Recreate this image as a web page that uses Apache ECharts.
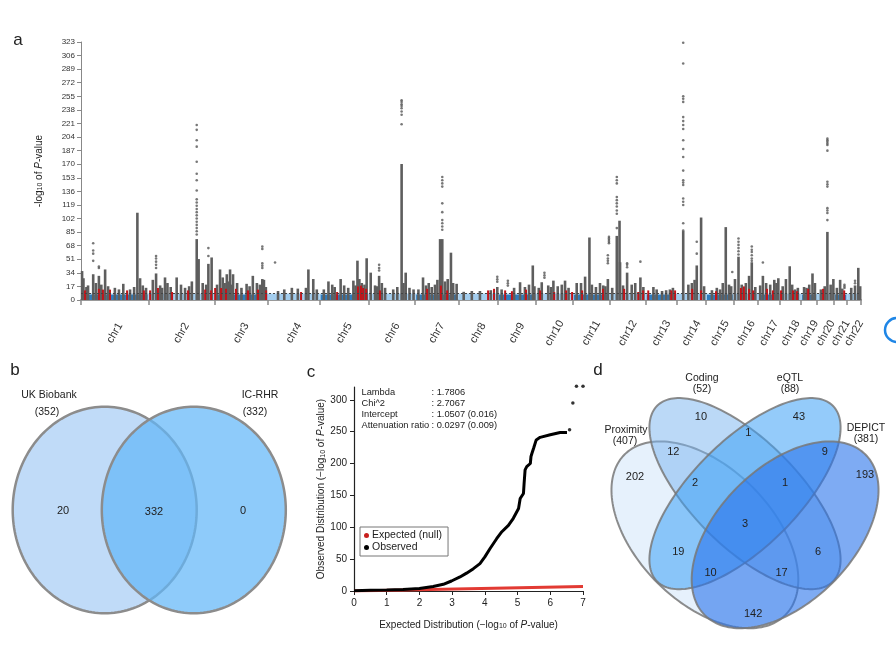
<!DOCTYPE html>
<html><head><meta charset="utf-8">
<script src="https://cdn.jsdelivr.net/npm/echarts@6/dist/echarts.min.js"></script>
<style>html,body{margin:0;padding:0;background:#fff}#c{width:896px;height:647px}</style>
</head><body><div id="c"></div>
<script>
// ---------- Panel a: Manhattan plot data ----------
const chrNames = ['chr1','chr2','chr3','chr4','chr5','chr6','chr7','chr8','chr9','chr10','chr11','chr12','chr13','chr14','chr15','chr16','chr17','chr18','chr19','chr20','chr21','chr22'];
const chrLengths = [249,243,198,191,181,171,159,146,141,136,135,134,115,107,102,90,81,78,59,63,48,51]; // Mb
const gwsThreshold = 8;
const bandLightTop = 8;
const bandDarkTop = 6.5;
// [chromosome, position (Mb), top -log10 P] dense columns of SNPs
const grayCols = [
[1,4,35],[1,9,26],[1,26,17],[1,45,31],[1,66,29],[1,89,37],[1,156,19],[1,181,12],[1,208,108],[1,218,26],
[2,16,24],[2,28,32],[2,43,17],[2,61,27],[2,104,27],[2,160,22],[2,178,75],[2,185,50],[2,221,44],[2,233,52],
[3,21,37],[3,31,27],[3,46,31],[3,58,37],[3,69,31],[3,84,20],[3,119,19],[3,142,29],[3,157,20],[3,177,25],[3,183,24],
[4,37,10],[4,88,14],[4,149,37],[4,167,25],
[5,32,22],[5,46,18],[5,77,25],[5,124,23],[5,139,48],[5,146,25],[5,173,51],
[6,7,33],[6,23,17],[6,38,29],[6,48,20],[6,105,15],[6,121,169],[6,136,33],
[7,12,12],[7,29,27],[7,61,15],[7,73,18],[7,92,75],[7,100,75],[7,132,58],[7,153,19],
[8,50,10],[8,144,15],
[9,14,12],[9,82,21],[9,129,42],
[10,21,21],[10,45,17],[10,64,23],[10,107,23],
[11,14,20],[11,30,20],[11,45,28],[11,61,77],[11,112,17],[11,129,25],
[12,27,79],[12,37,98],[12,39,46],[12,65,33],[12,82,18],[12,114,27],
[13,28,15],[13,60,10],[13,89,12],
[14,23,85],[14,42,18],[14,73,42],[14,89,102],
[15,22,11],[15,52,12],[15,73,90],[15,85,18],
[16,5,25],[16,18,53],[16,57,29],[16,67,46],
[17,8,17],[17,18,29],[17,75,26],
[18,22,25],[18,36,41],[18,56,12],
[19,11,15],[19,42,32],[19,51,20],
[20,14,12],[20,38,84],[20,60,25],
[21,22,24],
[22,29,17],[22,41,39],
[1,20,15],[1,55,20],[1,75,18],[1,100,16],[1,125,14],[1,140,12],[1,196,15],[1,228,17],[1,240,14],
[2,50,14],[2,70,20],[2,82,15],[2,120,18],[2,135,14],[2,150,16],[2,200,20],[2,213,18],
[3,10,18],[3,38,20],[3,52,22],[3,64,18],[3,100,14],[3,130,16],[3,168,18],[3,190,15],
[4,60,12],[4,110,13],[4,140,14],[4,180,12],
[5,15,12],[5,55,15],[5,90,17],[5,105,14],[5,132,17],[5,155,20],[5,165,18],
[6,30,16],[6,60,14],[6,90,12],[6,128,20],[6,150,14],[6,165,12],
[7,40,17],[7,50,20],[7,82,24],[7,110,22],[7,120,25],[7,140,20],
[8,20,9],[8,80,10],[8,120,11],
[9,60,14],[9,100,15],[9,115,18],[9,135,16],
[10,10,14],[10,55,15],[10,80,16],[10,95,18],[10,120,14],
[11,70,18],[11,85,15],[11,100,20],[11,120,16],
[12,10,14],[12,50,17],[12,95,20],[12,125,15],
[13,40,12],[13,75,11],[13,100,14],
[14,55,20],[14,65,24],[14,100,16],
[15,40,14],[15,62,20],[15,93,16],
[16,30,18],[16,45,20],[16,80,15],
[17,30,20],[17,45,18],[17,60,24],[17,68,20],
[18,10,16],[18,45,18],[18,66,14],
[19,20,14],[19,30,18],
[20,28,16],[20,50,18],
[21,10,14],[21,30,13],
[22,15,14],[22,48,16]
];
// isolated SNPs [chromosome, position (Mb), -log10 P]
const grayDots = [
[1,45,71],[1,45,62],[1,45,58],[1,45,49],[1,66,42],[1,66,40],
[2,28,55],[2,28,52],[2,28,48],[2,28,44],[2,28,40],
[2,178,219],[2,178,213],[2,178,200],[2,178,192],[2,178,173],[2,178,158],[2,178,150],[2,178,137],[2,178,126],[2,178,122],[2,178,118],[2,178,114],[2,178,110],[2,178,106],[2,178,102],[2,178,98],[2,178,94],[2,178,90],[2,178,86],[2,178,82],
[2,221,65],[2,221,55],
[3,177,67],[3,177,64],[3,177,46],[3,177,43],[3,177,40],
[4,26,47],
[6,38,44],[6,38,40],[6,38,37],
[6,121,250],[6,121,248],[6,121,245],[6,121,243],[6,121,240],[6,121,236],[6,121,232],[6,121,220],
[7,100,154],[7,100,150],[7,100,146],[7,100,142],[7,100,121],[7,100,110],[7,100,100],[7,100,96],[7,100,92],[7,100,88],
[8,144,29],[8,144,26],[8,144,23],
[9,37,24],[9,37,21],[9,37,18],
[10,31,34],[10,31,31],[10,31,28],
[11,129,56],[11,129,52],[11,129,49],[11,129,46],
[11,133,79],[11,133,77],[11,133,75],[11,133,73],[11,133,71],
[12,27,154],[12,27,150],[12,27,146],[12,27,129],[12,27,125],[12,27,121],[12,27,117],[12,27,112],[12,27,108],[12,27,90],
[12,65,46],[12,65,44],[12,65,41],[12,114,48],
[14,23,322],[14,23,296],[14,23,255],[14,23,252],[14,23,248],[14,23,229],[14,23,224],[14,23,219],[14,23,214],[14,23,200],[14,23,189],[14,23,179],[14,23,162],[14,23,150],[14,23,147],[14,23,144],[14,23,127],[14,23,123],[14,23,119],[14,23,96],[14,23,87],
[14,73,73],[14,73,58],
[15,97,35],
[16,18,77],[16,18,73],[16,18,69],[16,18,65],[16,18,61],[16,18,57],
[16,67,67],[16,67,63],[16,67,60],[16,67,56],[16,67,52],[16,67,49],
[17,18,47],
[20,38,202],[20,38,200],[20,38,198],[20,38,196],[20,38,194],[20,38,187],[20,38,148],[20,38,145],[20,38,142],[20,38,115],[20,38,112],[20,38,109],[20,38,100],
[21,38,19],[21,38,17],[21,38,15],
[22,29,24],[22,29,21]
];
// highlighted (red) loci [chromosome, position (Mb), top]
const redCols = [
[1,15,12],[1,66,14],[1,81,13],[1,107,13],[1,170,12],[1,232,12],[2,6,12],[2,35,15],[2,87,10],[2,146,12],[2,209,13],[2,231,12],
[3,3,15],[3,25,15],[3,43,14],[3,80,14],[3,124,12],[3,161,13],[3,191,12],[4,122,10],[5,64,10],[5,141,17],[5,152,18],[5,160,15],[5,171,14],
[6,41,12],[7,44,14],[7,95,18],[7,118,12],[8,110,12],[8,132,14],[9,27,12],[9,52,11],[9,104,13],[10,15,12],[10,67,10],[10,111,12],[10,133,10],
[11,34,12],[11,111,14],[12,54,14],[12,106,10],[12,124,12],[13,9,12],[13,94,12],[13,108,12],[14,56,14],[14,89,12],[15,37,11],
[16,27,15],[16,38,17],[16,57,14],[16,72,12],[17,33,14],[17,55,12],[18,4,12],[18,48,12],[18,63,11],[19,26,14],[20,22,14],[21,37,12]
];

// ---------- Panel b: two-set Venn ----------
const vennBSets = ['UK Biobank', 'IC-RHR'];
const vennBSizes = [352, 332];
const vennBCounts = [20, 332, 0]; // UKB only, both, IC-RHR only

// ---------- Panel c: QQ plot ----------
const qqExpected = [[0,0],[7,7]];
const qqObserved = [[0,0.5],[0.5,1],[1,1.5],[1.5,2.5],[2,4],[2.42,7],[2.73,10.5],[2.98,15.7],[3.24,22],[3.44,28],[3.65,35],[3.85,43],[4.0,53.5],[4.16,66.6],[4.36,82],[4.52,93],[4.72,103],[4.87,114],[5.03,129.5],[5.08,145],[5.18,153],[5.2,169],[5.23,190],[5.28,195],[5.39,200],[5.41,211],[5.44,216],[5.49,224],[5.57,237],[5.69,241],[6.0,245],[6.3,248.5],[6.51,248.5]];
const qqObservedTop = [[6.59,253],[6.69,295],[6.8,321],[7.0,321]];
const qqStatNames = ['Lambda','Chi^2','Intercept','Attenuation ratio'];
const qqStatValues = [': 1.7806',': 2.7067',': 1.0507 (0.016)',': 0.0297 (0.009)'];

// ---------- Panel d: four-set Venn ----------
const vennDSets = ['Proximity','Coding','eQTL','DEPICT'];
const vennDSizes = [407, 52, 88, 381];
const vennDRegionNames = ['C','E','CE','PC','ED','P','D','PCE','CED','PCED','PE','CD','PED','PCD','PD'];
const vennDCounts = [10, 43, 1, 12, 9, 202, 193, 2, 1, 3, 19, 6, 10, 17, 142];

// ================= layout / drawing =================
const FONT = 'Liberation Sans, Arial, sans-serif';
const chrStart = []; let acc = 0;
chrLengths.forEach(l => { chrStart.push(acc); acc += l; });
const genomeLen = acc;
const boundaries = chrStart.concat([genomeLen]);
const mids = chrStart.map((s, i) => s + chrLengths[i] / 2);
const gpos = (c, p) => chrStart[c - 1] + p;

// venn geometry (unit space of each hidden grid)
const vennBGeom = [{cx:0, cy:0, a:1, b:1, t:0}, {cx:0.9685, cy:0, a:1, b:1, t:0}];
const vennBStyle = [{fill:'#c0dbf8'}, {fill:'rgba(99,183,248,0.72)'}];
const vennBLabelPos = [[-0.453,-0.01],[0.536,-0.02],[1.503,-0.01]];
const vennDGeom = [
  {cx:0.387, cy:0.454, a:0.32, b:0.19, t:-45},
  {cx:0.5, cy:0.57, a:0.35, b:0.15, t:-45},
  {cx:0.5, cy:0.57, a:0.35, b:0.15, t:45},
  {cx:0.613, cy:0.454, a:0.32, b:0.19, t:45}
];
const vennDFill = ['rgba(205,228,250,0.5)','rgba(120,180,240,0.5)','rgba(60,160,245,0.55)','rgba(40,115,235,0.6)'];
const vennDLabelPos = {C:[0.376,0.785],E:[0.652,0.787],CE:[0.509,0.740],PC:[0.298,0.688],ED:[0.725,0.688],P:[0.19,0.618],D:[0.838,0.623],
  PCE:[0.359,0.599],CED:[0.613,0.601],PCED:[0.5,0.486],PE:[0.312,0.405],CD:[0.706,0.405],PED:[0.403,0.347],PCD:[0.603,0.347],PD:[0.523,0.231]};

function ellipsePts(g, api) {
  const th = g.t * Math.PI / 180, pts = [];
  for (let i = 0; i <= 180; i++) {
    const t = i / 180 * 2 * Math.PI;
    const x = g.cx + g.a * Math.cos(t) * Math.cos(th) - g.b * Math.sin(t) * Math.sin(th);
    const y = g.cy + g.a * Math.cos(t) * Math.sin(th) + g.b * Math.sin(t) * Math.cos(th);
    pts.push(api.coord([x, y]));
  }
  return pts;
}

const chart = echarts.init(document.getElementById('c'), null, {renderer:'canvas'});
const txt = (text, x, y, size, align) => ({
  type:'text', silent:true, z:100,
  style:{text, x, y, font: (size||10) + 'px ' + FONT, fill:'#222', align: align||'center', textAlign: align||'center', verticalAlign:'middle', textVerticalAlign:'middle'}
});

const graphics = [
  txt('a', 18, 40, 17), txt('b', 15, 370, 17), txt('c', 311, 372, 17), txt('d', 598, 370, 17),
  txt(vennBSets[0], 49, 395, 10.5), txt('(' + vennBSizes[0] + ')', 47, 412, 10.5),
  txt(vennBSets[1], 260, 395, 10.5), txt('(' + vennBSizes[1] + ')', 255, 412, 10.5),
  txt(vennDSets[1], 702, 378, 10.5), txt('(' + vennDSizes[1] + ')', 702, 389, 10.5),
  txt(vennDSets[2], 790, 378, 10.5), txt('(' + vennDSizes[2] + ')', 790, 389, 10.5),
  txt(vennDSets[0], 626, 430, 10.5), txt('(' + vennDSizes[0] + ')', 625, 441, 10.5),
  txt(vennDSets[3], 866, 428, 10.5), txt('(' + vennDSizes[3] + ')', 866, 439, 10.5),
  {type:'circle', silent:true, z:100, shape:{cx:897, cy:330, r:12}, style:{fill:'none', stroke:'#1f86e6', lineWidth:2.5}}
];
qqStatNames.forEach((n, i) => {
  const y = 392.3 + i * 11.1;
  graphics.push(txt(n, 361.5, y, 9.3, 'left'));
  graphics.push(txt(qqStatValues[i], 431.5, y, 9.3, 'left'));
});

const subRich = {s:{fontSize:7, verticalAlign:'bottom', padding:[3,0,0,0], fontFamily:FONT, color:'#222'}, i:{fontStyle:'italic', fontSize:10, fontFamily:FONT, color:'#222'}};

const option = {
  animation:false,
  backgroundColor:'#fff',
  textStyle:{fontFamily:FONT},
  graphic: graphics,
  legend:{
    data:[{name:'Expected (null)', icon:'circle', itemStyle:{color:'#c8201e'}}, {name:'Observed', icon:'circle', itemStyle:{color:'#000'}}],
    left:360, top:527, orient:'vertical', itemWidth:5, itemHeight:5, itemGap:1,
    padding:[3,6,3,4], borderColor:'#777', borderWidth:1, backgroundColor:'#fff',
    textStyle:{fontSize:10.5, color:'#222', fontFamily:FONT, padding:[0,0,0,-2]}
  },
  grid:[
    {left:81, top:42, right:35, height:258},
    {left:12.7, top:406.7, width:273.1, height:206.6},
    {left:354, top:387, width:229, height:204},
    {left:567.5, top:341, width:326.6, height:301.75}
  ],
  xAxis:[
    {gridIndex:0, type:'value', min:0, max:genomeLen, offset:6,
     axisLine:{lineStyle:{color:'#9a9a9a', width:2}},
     axisTick:{show:true, customValues:boundaries, length:5, lineStyle:{color:'#8a8a8a', width:1.5}},
     axisLabel:{show:true, customValues:mids, rotate:60, align:'center', verticalAlign:'middle', margin:27, fontSize:11, color:'#333', fontFamily:FONT,
       formatter:(v)=>{let k=0,b=1e9; mids.forEach((m,i)=>{if(Math.abs(m-v)<b){b=Math.abs(m-v);k=i;}}); return chrNames[k];}},
     splitLine:{show:false}},
    {gridIndex:1, type:'value', min:-1, max:1.9685, show:false},
    {gridIndex:2, type:'value', min:0, max:7, interval:1, name:'Expected Distribution (\u2212log{s|10} of {i|P}-value)', nameLocation:'middle', nameGap:29,
     nameTextStyle:{fontSize:10, color:'#222', fontFamily:FONT, rich:subRich},
     axisLine:{lineStyle:{color:'#222', width:1.2}}, axisTick:{length:4, lineStyle:{color:'#222'}},
     axisLabel:{fontSize:10, color:'#222', margin:7, fontFamily:FONT}, splitLine:{show:false}},
    {gridIndex:3, type:'value', min:0, max:0.92, show:false}
  ],
  yAxis:[
    {gridIndex:0, type:'value', min:0, max:323, interval:17, name:'-log{s|10} of {i|P}-value', nameLocation:'middle', nameGap:37, nameRotate:90,
     nameTextStyle:{fontSize:10, color:'#222', fontFamily:FONT, rich:subRich},
     axisLine:{show:true, lineStyle:{color:'#888', width:1}}, axisTick:{show:true, length:4, lineStyle:{color:'#888'}},
     axisLabel:{fontSize:8, color:'#333', margin:6, fontFamily:FONT}, splitLine:{show:false}},
    {gridIndex:1, type:'value', min:-1, max:1, show:false},
    {gridIndex:2, type:'value', min:0, max:320, interval:50, name:'Observed Distribution (\u2212log{s|10} of {i|P}-value)', nameLocation:'middle', nameGap:26, nameRotate:90,
     nameTextStyle:{fontSize:10, color:'#222', fontFamily:FONT, rich:subRich},
     axisLine:{show:true, lineStyle:{color:'#222', width:1.2}}, axisTick:{show:true, length:4, lineStyle:{color:'#222'}},
     axisLabel:{fontSize:10, color:'#222', margin:7, showMaxLabel:false, fontFamily:FONT}, splitLine:{show:false}},
    {gridIndex:3, type:'value', min:0.15, max:1, show:false}
  ],
  series:[
    // chromosome background band
    {type:'custom', xAxisIndex:0, yAxisIndex:0, z:1,
     data: chrLengths.map((l,i)=>[chrStart[i], chrStart[i]+l, i]),
     renderItem:(params, api)=>{
       const s = api.coord([api.value(0), 0]), e = api.coord([api.value(1), bandLightTop]), d = api.coord([api.value(1), bandDarkTop]);
       const ch = [{type:'rect', shape:{x:s[0], y:e[1], width:e[0]-s[0], height:s[1]-e[1]}, style:{fill:'#a3cdee'}}];
       if (api.value(2) % 2 === 0) ch.push({type:'rect', shape:{x:s[0]+1, y:d[1], width:e[0]-s[0]-2, height:s[1]-d[1]}, style:{fill:'#2f7dbf'}});
       return {type:'group', children:ch};
     },
     markLine:{silent:true, symbol:'none', label:{show:false}, lineStyle:{color:'#444', type:[2,2], width:1}, data:[{yAxis:gwsThreshold}]}
    },
    // dense SNP columns
    {type:'custom', xAxisIndex:0, yAxisIndex:0, z:2,
     data: grayCols.map(c=>[gpos(c[0],c[1]), c[2]]),
     renderItem:(params, api)=>{
       const p0 = api.coord([api.value(0), 0]), p1 = api.coord([api.value(0), api.value(1)]);
       return {type:'rect', shape:{x:p0[0]-1.3, y:p1[1]-1, width:2.6, height:p0[1]-p1[1]+1}, style:{fill:'#5e5e5e'}};
     }},
    // highlighted loci
    {type:'custom', xAxisIndex:0, yAxisIndex:0, z:3,
     data: redCols.map(c=>[gpos(c[0],c[1]), c[2]]),
     renderItem:(params, api)=>{
       const p0 = api.coord([api.value(0), 0]), p1 = api.coord([api.value(0), api.value(1)]);
       return {type:'rect', shape:{x:p0[0]-1, y:p1[1], width:2, height:p0[1]-p1[1]}, style:{fill:'#c0141a'}};
     }},
    // isolated SNPs
    {type:'scatter', xAxisIndex:0, yAxisIndex:0, z:4, symbolSize:2.6, itemStyle:{color:'#555'}, clip:false,
     data: grayDots.map(c=>[gpos(c[0],c[1]), c[2]])},

    // Venn b
    {type:'custom', xAxisIndex:1, yAxisIndex:1, z:2, data:[[0],[1]],
     renderItem:(params, api)=>({type:'polygon', shape:{points:ellipsePts(vennBGeom[params.dataIndex], api)},
       style:{fill:vennBStyle[params.dataIndex].fill, stroke:'#8c8c8c', lineWidth:2.5}})},
    {type:'custom', xAxisIndex:1, yAxisIndex:1, z:5, data: vennBCounts.map((v,i)=>[vennBLabelPos[i][0], vennBLabelPos[i][1], v]),
     renderItem:(params, api)=>{const p = api.coord([api.value(0), api.value(1)]);
       return {type:'text', style:{text:String(api.value(2)), x:p[0], y:p[1], align:'center', verticalAlign:'middle', font:'11px '+FONT, fill:'#222'}};}},

    // QQ plot
    {type:'line', name:'Expected (null)', xAxisIndex:2, yAxisIndex:2, z:3, showSymbol:false, symbol:'none',
     lineStyle:{color:'#e23a33', width:3}, itemStyle:{color:'#c8201e'}, data: qqExpected},
    {type:'line', name:'Observed', xAxisIndex:2, yAxisIndex:2, z:4, showSymbol:false, symbol:'none',
     lineStyle:{color:'#000', width:3}, itemStyle:{color:'#000'}, data: qqObserved},
    {type:'scatter', name:'Observed', xAxisIndex:2, yAxisIndex:2, z:4, symbolSize:3.5, clip:false, itemStyle:{color:'#000'}, data: qqObservedTop},

    // Venn d
    {type:'custom', xAxisIndex:3, yAxisIndex:3, z:2, data:[[0],[1],[2],[3]],
     renderItem:(params, api)=>({type:'polygon', shape:{points:ellipsePts(vennDGeom[params.dataIndex], api)},
       style:{fill:vennDFill[params.dataIndex], stroke:'rgba(120,120,120,0.85)', lineWidth:2}})},
    {type:'custom', xAxisIndex:3, yAxisIndex:3, z:5,
     data: vennDRegionNames.map((n,i)=>[vennDLabelPos[n][0], vennDLabelPos[n][1], vennDCounts[i]]),
     renderItem:(params, api)=>{const p = api.coord([api.value(0), api.value(1)]);
       return {type:'text', style:{text:String(api.value(2)), x:p[0], y:p[1], align:'center', verticalAlign:'middle', font:'11px '+FONT, fill:'#222'}};}}
  ]
};
chart.setOption(option);
</script></body></html>
